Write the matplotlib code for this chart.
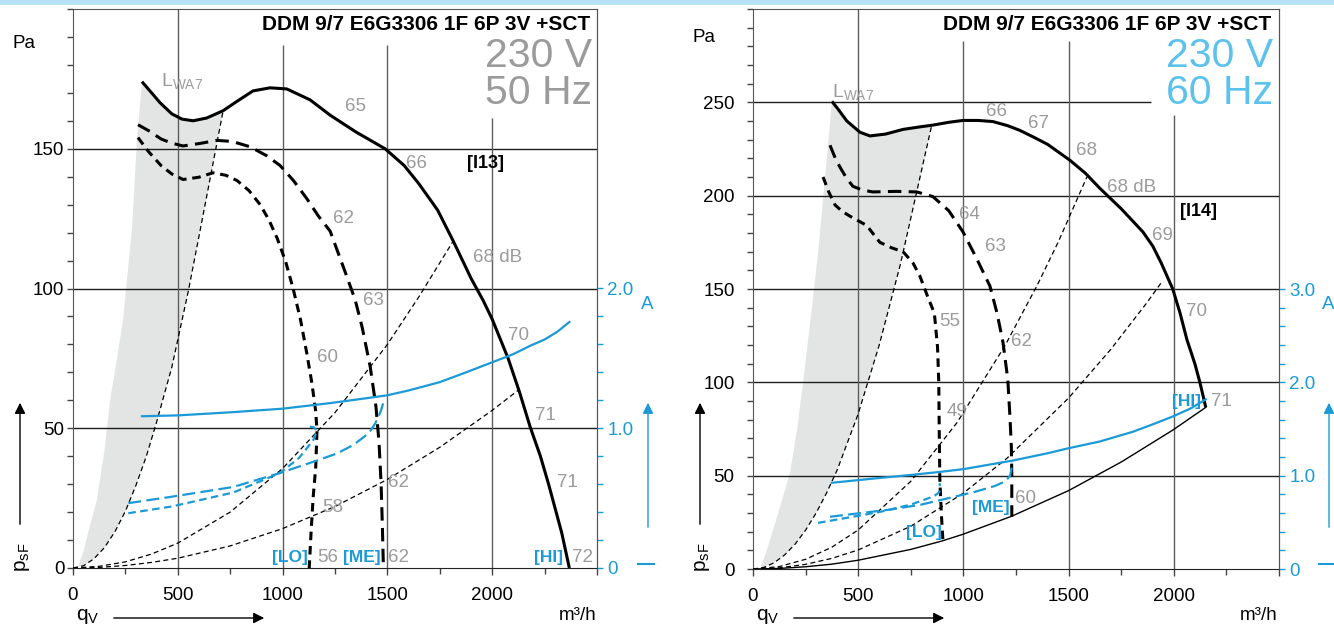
import matplotlib
matplotlib.use("Agg")
import matplotlib.pyplot as plt
from matplotlib.patches import Rectangle, Polygon, FancyArrowPatch
from matplotlib.lines import Line2D
from matplotlib.ticker import MultipleLocator, FixedLocator

plt.rcParams["font.family"] = ["Liberation Sans", "DejaVu Sans"]
plt.rcParams["mathtext.fontset"] = "custom"
plt.rcParams["mathtext.rm"] = "Liberation Sans"
plt.rcParams["mathtext.it"] = "Liberation Sans"
plt.rcParams["mathtext.bf"] = "Liberation Sans:bold"

W, H = 1334, 628
BLUE = "#1b9ad7"
GREY_TXT = "#9b9b9b"
LIGHT_BLUE = "#5cc2ec"

# ---------------- 230 V / 50 Hz ----------------
q50_hi = [329, 367, 415, 471, 520, 573, 638, 716, 781, 859, 940, 1020, 1131, 1227, 1350, 1489,
          1580, 1650, 1740, 1814, 1900, 1957, 2000, 2076, 2130, 2181, 2230, 2269, 2332, 2368]
p50_hi = [174, 170.7, 166.5, 162.5, 160.6, 160, 161, 163.6, 166.9, 170.7, 171.8, 171.4, 167.5,
          162, 156, 150, 144, 137.5, 128, 117, 103.5, 95.7, 89, 75, 63, 50.5, 40, 30, 12.5, 0]
q50_me = [310, 367, 420, 471, 525, 606, 687, 760, 845, 924, 988, 1052, 1117, 1170, 1227, 1298,
          1346, 1380, 1418, 1445, 1460, 1470, 1476, 1481]
p50_me = [158.6, 156.2, 153.5, 152, 151, 151.9, 153, 152.6, 150.7, 147.5, 144, 138.6, 132, 126,
          120.5, 106, 96, 86, 72, 58, 45, 30, 15, 0]
q50_lo = [310, 360, 420, 471, 525, 600, 668, 730, 783, 840, 893, 935, 974, 1015, 1050, 1085,
          1115, 1140, 1158, 1164, 1158, 1146, 1136, 1127]
p50_lo = [154, 149, 144, 141, 139, 139.8, 141.4, 140.5, 138.6, 135, 130, 124.5, 118, 109.5, 100,
          89, 77, 66, 56, 49, 36, 25.5, 13, 0]
q50_grey = [22, 50, 72, 113, 150, 177, 210, 239, 260, 282, 305, 325]
p50_grey = [0, 6, 12.5, 24, 42, 60, 75, 89, 105, 122, 153, 170]
q50_sys1 = [0, 50, 100, 150, 200, 250, 300, 350, 400, 472, 550, 620, 716]
p50_sys1 = [0, 0.8, 3.3, 7.3, 13, 20.3, 29.5, 40, 52.5, 72, 99, 126, 163.5]
q50_sys2 = [0, 125, 250, 375, 500, 750, 1000, 1250, 1500, 1650, 1814]
p50_sys2 = [0, 0.6, 2.2, 5, 8.9, 20, 35.6, 55.6, 80, 97, 117]
q50_sys3 = [0, 125, 250, 375, 500, 750, 1000, 1250, 1500, 1750, 2000, 2124]
p50_sys3 = [0, 0.2, 0.9, 2, 3.5, 7.9, 14.1, 22, 31.7, 43.2, 56.4, 63.6]
# current [A]
q50_ihi = [329, 500, 750, 1000, 1227, 1400, 1500, 1600, 1750, 1875, 2000, 2100, 2181, 2250,
           2310, 2368]
a50_ihi = [1.086, 1.092, 1.114, 1.14, 1.18, 1.215, 1.236, 1.27, 1.33, 1.40, 1.472, 1.53, 1.59,
           1.635, 1.69, 1.76]
q50_ime = [264, 471, 765, 988, 1170, 1260, 1337, 1390, 1418, 1440, 1457, 1470, 1480]
a50_ime = [0.464, 0.51, 0.58, 0.68, 0.772, 0.82, 0.88, 0.94, 0.98, 1.03, 1.08, 1.13, 1.18]
q50_ilo = [264, 471, 765, 988, 1080, 1146, 1164, 1150, 1122]
a50_ilo = [0.392, 0.44, 0.54, 0.68, 0.79, 0.914, 0.98, 1.006, 1.014]
lab50_db = ["65", "66", "62", "63", "60", "70", "71", "58", "62", "71", "56", "62", "72"]

# ---------------- 230 V / 60 Hz ----------------
q60_hi = [375, 400, 446, 508, 556, 630, 713, 790, 855, 930, 998, 1070, 1140, 1210, 1268, 1340,
          1400, 1506, 1580, 1648, 1750, 1853, 1900, 1940, 1995, 2030, 2062, 2100, 2124, 2152]
p60_hi = [250.5, 247, 240, 234, 232, 233, 235.5, 236.8, 237.8, 239.3, 240.3, 240.3, 239.7,
          237.5, 235, 231, 227.5, 219, 212, 204, 193, 180.6, 173, 164, 150, 137, 123, 110,
          100, 86.6]
q60_me = [366, 395, 420, 447, 475, 520, 570, 680, 779, 855, 930, 998, 1060, 1126, 1160, 1188,
          1211, 1222, 1228, 1230, 1230]
p60_me = [227, 219, 214, 209, 205, 203, 202, 202.3, 202, 199.5, 192, 180.6, 167, 151.6, 137,
          121.5, 101.6, 80, 65, 50, 28]
q60_lo = [333, 360, 390, 425, 461, 541, 575, 603, 660, 713, 760, 793, 830, 862, 877, 883, 885,
          888, 895, 903]
p60_lo = [210, 202, 195, 191.5, 189, 184, 179, 175, 172, 170, 164, 157, 146, 137, 119, 100, 75,
          48, 30, 14.5]
q60_grey = [33, 60, 81, 128, 176, 210, 238, 280, 310, 333, 355, 375]
p60_grey = [0, 8, 15.6, 33, 51.6, 75, 100, 140, 170, 198, 225, 250.5]
q60_sys1 = [0, 50, 100, 150, 200, 250, 300, 350, 400, 499, 600, 700, 790, 850]
p60_sys1 = [0, 0.8, 3.3, 7.5, 13.3, 20.8, 30, 40.8, 53, 82.8, 120, 163, 208, 238]
q60_sys2 = [0, 125, 250, 375, 500, 750, 969, 1197, 1349, 1450, 1587]
p60_sys2 = [0, 1.3, 5.2, 11.7, 20.9, 47, 78.3, 119.5, 151.6, 175, 210]
q60_sys3 = [0, 125, 250, 375, 500, 750, 998, 1206, 1500, 1700, 1871, 1943]
p60_sys3 = [0, 0.6, 2.5, 5.7, 10.2, 22.9, 40.5, 59.2, 91.6, 117.6, 142.5, 153.8]
q60_sys4 = [0, 125, 250, 375, 500, 750, 898, 998, 1230, 1500, 1750, 1995, 2152]
p60_sys4 = [0, 0.3, 1.2, 2.6, 4.7, 10.5, 15, 18.6, 28.3, 42, 57.3, 74.4, 86.6]
q60_ihi = [375, 600, 760, 888, 1000, 1230, 1400, 1492, 1648, 1805, 1900, 1995, 2080, 2152]
a60_ihi = [0.924, 0.975, 1.01, 1.04, 1.07, 1.16, 1.24, 1.29, 1.366, 1.47, 1.55, 1.634, 1.72,
           1.818]
q60_ime = [366, 500, 650, 800, 950, 1060, 1150, 1200, 1222, 1229, 1230]
a60_ime = [0.56, 0.596, 0.636, 0.69, 0.77, 0.83, 0.89, 0.94, 1.0, 1.08, 1.15]
q60_ilo = [309, 450, 600, 750, 860, 884, 889, 887]
a60_ilo = [0.494, 0.55, 0.61, 0.69, 0.78, 0.82, 0.87, 0.92]
lab60_db = ["66", "67", "68", "69", "64", "63", "55", "62", "70", "49", "71", "60"]

fig = plt.figure(figsize=(W / 100, H / 100), dpi=100)
fig.add_artist(Rectangle((0, 1 - 5 / H), 1, 5 / H, transform=fig.transFigure,
                         facecolor="#b6e2f5", lw=0))


def fpx(x, y):
    return x / W, 1 - y / H


def panel(rect, ymax, amax, ypad, hi, me, lo, dashed, solid, grey, cur, hgrid, vtops,
          db_pos, db_txt, marks, tag, lwa):
    ax = fig.add_axes(rect)
    ax.set_xlim(0, 2500)
    ax.set_ylim(0, ymax)
    for s in ["left", "top", "right"]:
        ax.spines[s].set_color("#555555")
    ax.spines["bottom"].set_color("#222222")

    # grey L_WA7 zone: left edge, top along HI curve, right edge down the steep system line
    sys_q, sys_p = dashed[0]
    top = [(q, p) for q, p in zip(*hi) if grey[0][-1] < q < sys_q[-1]]
    pts = list(zip(*grey)) + top + list(zip(sys_q, sys_p))[::-1]
    ax.add_patch(Polygon(pts, closed=True, facecolor="#e3e4e4", edgecolor="none", zorder=1))

    # grid
    for y, x1 in hgrid:
        ax.hlines(y, 0, x1, color="#1e1e1e", lw=1.0, zorder=2)
    for x, y1 in vtops:
        ax.vlines(x, 0, y1, color="#5e5e5e", lw=1.0, zorder=2)

    for q, p in dashed:
        ax.plot(q, p, color="black", lw=0.9, ls=(0, (4, 2.6)), zorder=3)
    if solid is not None:
        ax.plot(solid[0], solid[1], color="black", lw=1.0, zorder=3)
    ax.plot(hi[0], hi[1], color="black", lw=2.2, zorder=4, solid_capstyle="butt",
            solid_joinstyle="round")
    ax.plot(me[0], me[1], color="black", lw=2.2, ls=(0, (4.4, 2.4)), zorder=4)
    ax.plot(lo[0], lo[1], color="black", lw=2.2, ls=(0, (2.8, 1.9)), zorder=4)

    ax.set_xticks([0, 500, 1000, 1500, 2000, 2500])
    ax.set_xticklabels(["0", "500", "1000", "1500", "2000", ""])
    ax.xaxis.set_minor_locator(MultipleLocator(250))
    yt = list(range(0, ymax + 1, 50))
    ax.set_yticks(yt)
    ax.set_yticklabels([str(v) for v in yt[:-1]] + [""])
    ax.yaxis.set_minor_locator(MultipleLocator(10))
    ax.tick_params(axis="x", which="major", direction="out", length=5, width=1,
                   color="#444444", pad=9, labelsize=13.5)
    ax.tick_params(axis="x", which="minor", direction="out", length=4, width=1, color="#444444")
    ax.tick_params(axis="y", which="both", direction="out", length=4.2, width=1,
                   color="#444444", pad=ypad, labelsize=13.5)

    axc = ax.twinx()
    axc.set_ylim(0, ymax / 50)
    for s in ["left", "top", "bottom"]:
        axc.spines[s].set_visible(False)
    axc.spines["right"].set_color("#555555")
    axc.yaxis.set_major_locator(FixedLocator(list(range(0, amax + 1))))
    axc.yaxis.set_minor_locator(FixedLocator([i * 0.2 for i in range(amax * 5 + 1)]))
    axc.set_yticklabels(["0"] + [f"{v}.0" for v in range(1, amax + 1)])
    axc.tick_params(axis="y", which="both", direction="out", length=4.5, width=1,
                    color=BLUE, labelcolor=BLUE, labelsize=13.5, pad=3)
    (qh, ah), (qm, am), (ql, al) = cur
    axc.plot(qh, ah, color=BLUE, lw=1.6, zorder=5)
    axc.plot(qm, am, color=BLUE, lw=1.6, ls=(0, (5.8, 2.4)), zorder=5)
    axc.plot(ql, al, color=BLUE, lw=1.6, ls=(0, (3.4, 2.0)), zorder=5)

    for (x, y), s in zip(db_pos, db_txt):
        ax.text(x, y, s, ha="center", va="center", color=GREY_TXT, fontsize=13.5, zorder=6)
    for x, y, s in marks:
        ax.text(x, y, s, ha="center", va="center", color=BLUE, fontsize=12.5, fontweight="bold",
                family=["Liberation Sans Narrow", "Liberation Sans"], zorder=6)
    ax.text(tag[0], tag[1], tag[2], ha="center", va="center", color="black", fontsize=13,
            fontweight="bold", zorder=6)
    ax.text(lwa[0], lwa[1], r"$\mathregular{L_{WA7}}$", ha="left", va="baseline",
            color=GREY_TXT, fontsize=14, zorder=6)
    return ax


# ---- left panel
panel([73 / W, 60 / H, 524 / W, 559 / H], 200, 2, 2,
      (q50_hi, p50_hi), (q50_me, p50_me), (q50_lo, p50_lo),
      [(q50_sys1, p50_sys1), (q50_sys2, p50_sys2), (q50_sys3, p50_sys3)], None,
      (q50_grey, p50_grey),
      [(q50_ihi, a50_ihi), (q50_ime, a50_ime), (q50_ilo, a50_ilo)],
      [(50, 2500), (100, 2500), (150, 2500)],
      [(500, 200), (1000, 187), (1500, 187), (2000, 161)],
      [(1346, 165), (1637, 144.6), (1289, 125), (1432, 95.7), (1212, 75.4), (2124, 83.2),
       (2253, 54.6), (1241, 21.8), (1551, 30.7), (2358, 30.7), (1217, 3.9), (1551, 3.9),
       (2430, 3.9)], lab50_db,
      [(1036, 3.9, "[LO]"), (1379, 3.9, "[ME]"), (2267, 3.9, "[HI]")],
      (1967, 144.6, "[I13]"), (420, 172.5))
fig.text(*fpx(473, 257), "68 dB", ha="left", va="center", color=GREY_TXT, fontsize=13.5)

# ---- right panel
panel([753 / W, 59 / H, 526 / W, 560 / H], 300, 3, 9,
      (q60_hi, p60_hi), (q60_me, p60_me), (q60_lo, p60_lo),
      [(q60_sys1, p60_sys1), (q60_sys2, p60_sys2), (q60_sys3, p60_sys3)], (q60_sys4, p60_sys4),
      (q60_grey, p60_grey),
      [(q60_ihi, a60_ihi), (q60_ime, a60_ime), (q60_ilo, a60_ilo)],
      [(50, 2500), (100, 2500), (150, 2500), (200, 2500), (250, 1891)],
      [(500, 300), (1000, 283), (1500, 283), (2000, 243)],
      [(1159, 245), (1359, 238.7), (1587, 224), (1948, 178.5), (1031, 190), (1150, 173),
       (936, 132.8), (1278, 122), (2109, 138), (969, 84.4), (2228, 89.8), (1297, 37.6)],
      lab60_db,
      [(2062, 89.8, "[HI]"), (1131, 32.8, "[ME]"), (812, 19.4, "[LO]")],
      (2119, 191.4, "[I14]"), (375, 253))
fig.text(*fpx(1107, 187), "68 dB", ha="left", va="center", color=GREY_TXT, fontsize=13.5)

# ---- titles and axis annotations
for xr, col, hz in [(591, "#9b9b9b", "50 Hz"), (1272, LIGHT_BLUE, "60 Hz")]:
    fig.text(*fpx(xr - 1, 25), "DDM 9/7 E6G3306 1F 6P 3V +SCT", ha="right", va="center",
             fontsize=15, fontweight="bold", color="black")
    fig.text(*fpx(xr + 1, 56), "230 V", ha="right", va="center", fontsize=29.5, color=col)
    fig.text(*fpx(xr + 1, 93), hz, ha="right", va="center", fontsize=29.5, color=col)

for x0 in [0, 680]:
    fig.text(*fpx(x0 + 13, 43 - (6 if x0 else 0)), "Pa", ha="left", va="center", fontsize=13.5)
    fig.text(*fpx(x0 + 23, 557), r"$\mathregular{p_{sF}}$", ha="center", va="center",
             rotation=90, fontsize=15)
    fig.text(*fpx(x0 + 88, 617), r"$\mathregular{q_{V}}$", ha="center", va="center", fontsize=15)
    fig.add_artist(FancyArrowPatch(fpx(x0 + 20, 527), fpx(x0 + 20, 400),
                                   transform=fig.transFigure, arrowstyle="-|>",
                                   mutation_scale=16, color="black", lw=1))
    fig.add_artist(FancyArrowPatch(fpx(x0 + 111, 618), fpx(x0 + 267, 618),
                                   transform=fig.transFigure, arrowstyle="-|>",
                                   mutation_scale=16, color="black", lw=1))

for xa in [648, 1329]:
    fig.text(*fpx(xa - 1, 305), "A", ha="center", va="center", fontsize=13.5, color=BLUE)
    fig.add_artist(FancyArrowPatch(fpx(xa, 530), fpx(xa, 400), transform=fig.transFigure,
                                   arrowstyle="-|>", mutation_scale=16, color=BLUE, lw=1))
    fig.add_artist(Line2D([(xa - 10) / W, (xa + 6) / W], [1 - 564 / H] * 2,
                          transform=fig.transFigure, color=BLUE, lw=1.5))

fig.text(*fpx(597, 615), "m³/h", ha="right", va="center", fontsize=13.5)
fig.text(*fpx(1278, 615), "m³/h", ha="right", va="center", fontsize=13.5)

fig.savefig("out.png", dpi=100)
plt.close(fig)
